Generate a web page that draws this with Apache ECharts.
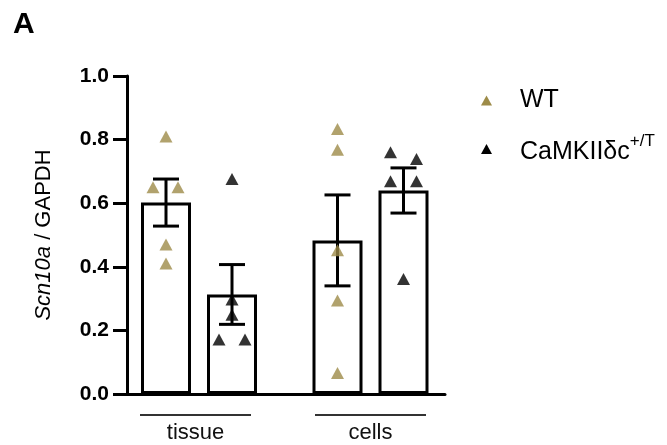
<!DOCTYPE html>
<html>
<head>
<meta charset="utf-8">
<script src="https://cdn.jsdelivr.net/npm/echarts@6/dist/echarts.min.js"></script>
<style>html,body{margin:0;padding:0;background:#fff;}#c{width:667px;height:445px;}</style>
</head>
<body>
<div id="c"></div>
<script>
// ---- data ----
var categories = ['tissue', 'cells'];
var seriesNames = ['WT', 'CaMKIIδc'];
var wtMean = [0.602, 0.483];
var wtSem = [0.074, 0.143];
var mutMean = [0.313, 0.640];
var mutSem = [0.094, 0.071];
var wtPoints = [[0.81, 0.65, 0.65, 0.47, 0.41], [0.833, 0.768, 0.452, 0.294, 0.066]];
var mutPoints = [[0.676, 0.297, 0.249, 0.171, 0.171], [0.76, 0.739, 0.669, 0.669, 0.362]];
var yTicks = [0, 0.2, 0.4, 0.6, 0.8, 1.0];

// ---- style (pixel offsets for dot jitter and label nudges, not data) ----
var wtJitter = [[0, -13, 12, 0, 0], [0, 0, 0, 0, 0]];
var mutJitter = [[0, 0, 0, -13, 13], [-13, 13, -13, 13, 0]];
var labelPadRight = [7, 0];
var barHalfSpacing = 33;
var gold = '#9d8b48';
var FONT = '"Liberation Sans", Arial, sans-serif';

var chart = echarts.init(document.getElementById('c'));

function pointsData(pts, jit, dx) {
  var out = [];
  pts.forEach(function (arr, ci) {
    arr.forEach(function (v, k) {
      out.push({ value: [ci, v], symbolOffset: [dx + jit[ci][k], 0] });
    });
  });
  return out;
}
function errData(mean, sem) {
  return mean.map(function (m, i) { return [i, m, sem[i]]; });
}
function errRender(dx) {
  return function (params, api) {
    var c = api.value(0), m = api.value(1), s = api.value(2);
    var top = api.coord([c, m + s]);
    var bot = api.coord([c, m - s]);
    var x = top[0] + dx, hw = 13;
    var st = { stroke: '#000', lineWidth: 3 };
    return {
      type: 'group',
      children: [
        { type: 'line', shape: { x1: x, y1: top[1], x2: x, y2: bot[1] }, style: st },
        { type: 'line', shape: { x1: x - hw, y1: top[1], x2: x + hw, y2: top[1] }, style: st },
        { type: 'line', shape: { x1: x - hw, y1: bot[1], x2: x + hw, y2: bot[1] }, style: st }
      ]
    };
  };
}

var catData = categories.map(function (c, i) {
  return { value: c, textStyle: { padding: [0, labelPadRight[i], 0, 0] } };
});

var option = {
  animation: false,
  backgroundColor: '#fff',
  title: {
    text: 'A', left: 8, top: 5,
    textStyle: { fontFamily: FONT, fontSize: 30, fontWeight: 'bold', color: '#000' }
  },
  legend: [
    {
      data: [{ name: seriesNames[0], icon: 'triangle' }],
      left: 476, top: 83, itemWidth: 11, itemHeight: 10,
      formatter: function () { return '{b|WT}'; },
      textStyle: { rich: { b: { fontFamily: FONT, fontSize: 25, color: '#000', lineHeight: 30, padding: [0, 0, 0, 23] } } }
    },
    {
      data: [{ name: seriesNames[1], icon: 'triangle' }],
      left: 476, top: 128, itemWidth: 11, itemHeight: 10,
      formatter: function () { return '{b|CaMKIIδc}{s|+/T}'; },
      textStyle: {
        rich: {
          b: { fontFamily: FONT, fontSize: 25, color: '#000', padding: [0, 0, 0, 23], lineHeight: 32, verticalAlign: 'bottom' },
          s: { fontFamily: FONT, fontSize: 17, color: '#000', verticalAlign: 'top', lineHeight: 32 }
        }
      }
    }
  ],
  grid: [
    { left: 127, top: 76, width: 318, height: 318 },
    { left: 113.25, top: 76, width: 343, height: 318 }
  ],
  xAxis: [
    {
      gridIndex: 0, type: 'value', min: 0, max: 1,
      axisLine: { show: true, lineStyle: { color: '#000', width: 3 } },
      axisTick: { show: false }, axisLabel: { show: false }, splitLine: { show: false }
    },
    {
      gridIndex: 1, type: 'category', data: catData,
      axisLine: { show: false }, axisTick: { show: false }, splitLine: { show: false },
      axisLabel: {
        margin: 20, interval: 0,
        formatter: function (v) { return '{u|}\n{t|' + v + '}'; },
        rich: {
          u: { width: 111, height: 2, backgroundColor: '#333' },
          t: { fontFamily: FONT, fontSize: 22, color: '#111', lineHeight: 24, padding: [10, 0, 0, 0] }
        }
      }
    }
  ],
  yAxis: [
    {
      gridIndex: 0, type: 'value', min: 0, max: 1, interval: 0.2,
      name: '{i|Scn10a} / GAPDH', nameLocation: 'middle', nameGap: 72,
      nameTextStyle: {
        fontFamily: FONT, fontSize: 22, color: '#000',
        rich: { i: { fontFamily: FONT, fontSize: 22, fontStyle: 'italic', color: '#000' } }
      },
      axisLine: { show: true, lineStyle: { color: '#000', width: 3 } },
      axisTick: { show: true, length: 14, lineStyle: { color: '#000', width: 3 } },
      axisLabel: {
        margin: 18, color: '#000', fontFamily: FONT, fontSize: 21, fontWeight: 'bold',
        formatter: function (v) { return v.toFixed(1); }
      },
      splitLine: { show: false }
    },
    {
      gridIndex: 1, type: 'value', min: 0, max: 1, show: false
    }
  ],
  series: [
    {
      name: seriesNames[0], type: 'bar', xAxisIndex: 1, yAxisIndex: 1,
      data: wtMean, barWidth: 50, barGap: '32%', z: 2,
      itemStyle: { color: '#fff', borderColor: '#000', borderWidth: 3 }
    },
    {
      name: seriesNames[1], type: 'bar', xAxisIndex: 1, yAxisIndex: 1,
      data: mutMean, barWidth: 50, barGap: '32%', z: 2,
      itemStyle: { color: '#fff', borderColor: '#000', borderWidth: 3 }
    },
    {
      type: 'custom', xAxisIndex: 1, yAxisIndex: 1, z: 3,
      renderItem: errRender(-barHalfSpacing), data: errData(wtMean, wtSem)
    },
    {
      type: 'custom', xAxisIndex: 1, yAxisIndex: 1, z: 3,
      renderItem: errRender(barHalfSpacing), data: errData(mutMean, mutSem)
    },
    {
      name: seriesNames[0], type: 'scatter', xAxisIndex: 1, yAxisIndex: 1, z: 4,
      symbol: 'triangle', symbolSize: [13, 12],
      itemStyle: { color: gold },
      data: pointsData(wtPoints, wtJitter, -barHalfSpacing)
    },
    {
      name: seriesNames[1], type: 'scatter', xAxisIndex: 1, yAxisIndex: 1, z: 4,
      symbol: 'triangle', symbolSize: [13, 12],
      itemStyle: { color: '#000' },
      data: pointsData(mutPoints, mutJitter, barHalfSpacing)
    }
  ]
};
option.legend[0].data[0].itemStyle = { color: gold, borderWidth: 0 };
option.legend[1].data[0].itemStyle = { color: '#000', borderWidth: 0 };
chart.setOption(option);
</script>
</body>
</html>
